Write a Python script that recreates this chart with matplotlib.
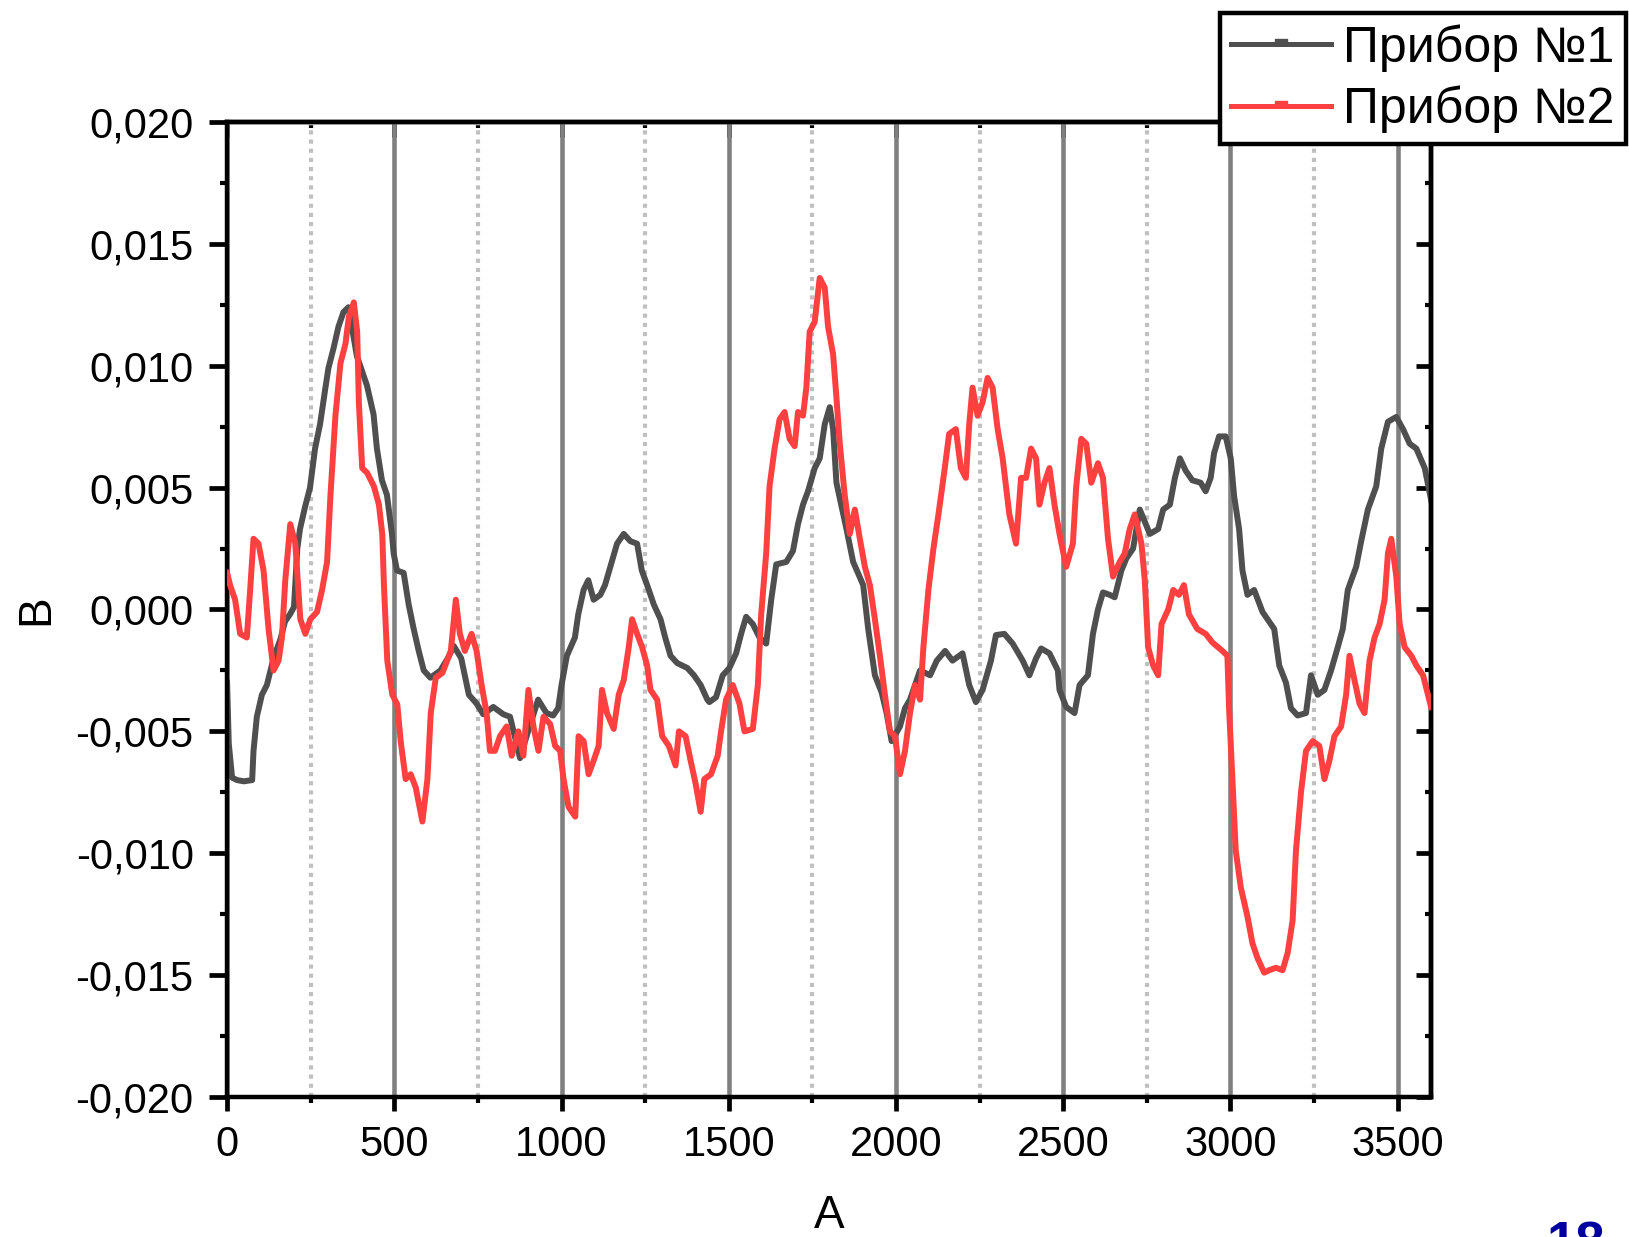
import numpy as np
import matplotlib
matplotlib.use("Agg")
import matplotlib.pyplot as plt
from matplotlib.lines import Line2D
from matplotlib.ticker import MultipleLocator, FuncFormatter

plt.rcParams['font.family'] = ['Liberation Sans', 'DejaVu Sans']

# ---- data (y in units of 1e-3) ----
x_dev1 = [0, 5, 15, 30, 50, 75, 79, 89, 104, 119, 139, 160, 173, 188, 200, 210, 218, 233, 248, 263,
          278, 293, 303, 318, 333, 348, 363, 378, 388, 403, 418, 438, 448, 463, 478, 493, 498, 508, 528, 543,
          558, 573, 588, 608, 638, 660, 678, 700, 723, 746, 766, 796, 826, 846, 876, 900, 930, 955, 975, 990,
          1000, 1016, 1040, 1050, 1066, 1080, 1096, 1116, 1130, 1150, 1166, 1186, 1206, 1226, 1240, 1256, 1276, 1296, 1310, 1326,
          1346, 1376, 1396, 1416, 1436, 1442, 1462, 1482, 1502, 1522, 1537, 1552, 1572, 1592, 1612, 1627, 1642, 1672, 1692, 1707,
          1722, 1737, 1757, 1772, 1787, 1802, 1812, 1822, 1852, 1872, 1902, 1917, 1937, 1957, 1972, 1987, 2012, 2027, 2042, 2072,
          2102, 2122, 2147, 2169, 2199, 2219, 2239, 2259, 2284, 2299, 2324, 2349, 2379, 2399, 2419, 2434, 2459, 2484, 2489, 2509,
          2534, 2549, 2574, 2589, 2604, 2619, 2639, 2654, 2674, 2689, 2709, 2729, 2744, 2759, 2784, 2799, 2819, 2834, 2849, 2866,
          2886, 2911, 2926, 2941, 2951, 2966, 2986, 3001, 3011, 3026, 3036, 3051, 3071, 3096, 3131, 3146, 3166, 3181, 3201, 3226,
          3241, 3261, 3281, 3301, 3321, 3336, 3351, 3376, 3391, 3411, 3436, 3451, 3471, 3496, 3516, 3536, 3556, 3581, 3600]
y_dev1 = [-3.0, -5.5, -6.9, -7.0, -7.05, -7.0, -5.8, -4.4, -3.5, -3.1, -2.0, -1.2, -0.5, -0.2, 0.1, 2.5, 3.3, 4.2, 5.0, 6.6,
          7.6, 9.0, 9.9, 10.7, 11.6, 12.2, 12.4, 11.2, 10.4, 9.8, 9.2, 8.0, 6.6, 5.3, 4.7, 3.1, 2.3, 1.6, 1.5, 0.2,
          -0.8, -1.7, -2.5, -2.8, -2.5, -2.0, -1.5, -2.0, -3.5, -3.86, -4.3, -4.0, -4.3, -4.4, -6.1, -5.0, -3.7, -4.25, -4.35, -4.05,
          -3.1, -1.9, -1.15, -0.2, 0.8, 1.2, 0.4, 0.6, 1.0, 1.95, 2.7, 3.1, 2.8, 2.7, 1.6, 1.0, 0.2, -0.4, -1.15, -1.9,
          -2.2, -2.4, -2.7, -3.1, -3.7, -3.8, -3.6, -2.7, -2.4, -1.8, -1.0, -0.3, -0.6, -1.15, -1.4, 0.4, 1.85, 1.95, 2.4, 3.5,
          4.3, 4.85, 5.8, 6.2, 7.6, 8.3, 7.4, 5.2, 3.3, 1.95, 1.0, -0.8, -2.7, -3.4, -4.25, -5.4, -4.8, -4.05, -3.7, -2.5,
          -2.7, -2.1, -1.7, -2.1, -1.8, -3.1, -3.8, -3.3, -2.1, -1.05, -1.0, -1.4, -2.1, -2.7, -2.0, -1.6, -1.8, -2.5, -3.3, -4.0,
          -4.25, -3.1, -2.7, -1.0, 0.0, 0.7, 0.6, 0.5, 1.6, 2.1, 2.5, 4.1, 3.6, 3.1, 3.3, 4.1, 4.3, 5.4, 6.2, 5.7,
          5.3, 5.2, 4.85, 5.4, 6.4, 7.1, 7.1, 6.2, 4.66, 3.3, 1.6, 0.6, 0.8, -0.1, -0.8, -2.3, -3.0, -4.05, -4.35, -4.25,
          -2.7, -3.5, -3.3, -2.5, -1.55, -0.8, 0.8, 1.75, 2.8, 4.1, 5.05, 6.6, 7.7, 7.9, 7.4, 6.8, 6.6, 5.8, 4.5]

x_dev2 = [0, 9, 24, 39, 59, 69, 79, 94, 109, 124, 139, 154, 164, 174, 189, 204, 219, 234, 249, 269,
          284, 299, 309, 324, 339, 354, 364, 379, 389, 394, 404, 419, 439, 454, 464, 469, 479, 494, 509, 519,
          534, 549, 564, 584, 599, 609, 624, 644, 669, 684, 696, 711, 731, 746, 761, 776, 786, 801, 816, 836,
          851, 871, 886, 901, 916, 931, 946, 966, 981, 996, 1006, 1021, 1041, 1051, 1066, 1081, 1096, 1111, 1121, 1136,
          1156, 1171, 1186, 1201, 1211, 1226, 1241, 1256, 1266, 1286, 1301, 1321, 1341, 1351, 1371, 1386, 1401, 1416, 1427, 1447,
          1467, 1477, 1492, 1512, 1532, 1547, 1572, 1587, 1597, 1612, 1622, 1637, 1652, 1667, 1682, 1697, 1707, 1722, 1732, 1742,
          1757, 1772, 1787, 1797, 1812, 1822, 1832, 1847, 1862, 1877, 1892, 1907, 1922, 1937, 1952, 1967, 1982, 1997, 2012, 2027,
          2042, 2057, 2072, 2082, 2097, 2112, 2127, 2144, 2159, 2179, 2194, 2209, 2219, 2229, 2244, 2259, 2274, 2289, 2304, 2319,
          2339, 2359, 2374, 2389, 2404, 2419, 2429, 2444, 2459, 2474, 2489, 2509, 2529, 2539, 2554, 2569, 2584, 2604, 2619, 2634,
          2649, 2669, 2684, 2699, 2714, 2734, 2744, 2754, 2769, 2784, 2794, 2814, 2829, 2846, 2861, 2876, 2901, 2926, 2946, 2976,
          2991, 2996, 3006, 3016, 3031, 3051, 3066, 3081, 3101, 3116, 3136, 3156, 3171, 3186, 3196, 3211, 3226, 3246, 3266, 3281,
          3296, 3311, 3331, 3346, 3356, 3371, 3386, 3401, 3416, 3431, 3446, 3461, 3471, 3481, 3496, 3506, 3521, 3541, 3556, 3576, 3600]
y_dev2 = [1.5, 1.0, 0.4, -1.0, -1.15, 0.8, 2.9, 2.7, 1.6, -0.8, -2.5, -2.1, -1.15, 1.2, 3.5, 2.7, -0.4, -1.0, -0.4, -0.1,
          0.8, 1.95, 4.66, 7.95, 10.1, 10.9, 12.0, 12.6, 11.4, 8.5, 5.8, 5.6, 5.05, 4.3, 3.1, 1.0, -2.1, -3.5, -3.9, -5.4,
          -6.96, -6.76, -7.3, -8.7, -6.96, -4.25, -2.8, -2.6, -1.7, 0.4, -1.0, -1.7, -1.0, -1.7, -3.1, -4.25, -5.8, -5.8, -5.2, -4.8,
          -6.0, -5.0, -6.0, -3.3, -4.8, -5.8, -4.4, -4.7, -5.6, -5.8, -6.96, -8.1, -8.5, -5.2, -5.4, -6.76, -6.2, -5.6, -3.3, -4.25,
          -4.9, -3.5, -2.9, -1.55, -0.4, -1.0, -1.55, -2.3, -3.3, -3.7, -5.2, -5.6, -6.4, -5.0, -5.2, -6.2, -7.15, -8.3, -6.96, -6.76,
          -6.0, -5.0, -3.7, -3.1, -3.86, -5.0, -4.9, -3.1, -0.2, 2.3, 5.05, 6.6, 7.8, 8.1, 7.0, 6.7, 8.1, 7.95, 9.1, 11.4,
          11.8, 13.6, 13.2, 11.6, 10.47, 8.7, 6.8, 4.66, 3.1, 4.1, 2.9, 1.75, 1.0, -0.4, -1.9, -3.5, -5.0, -5.2, -6.76, -5.8,
          -4.25, -3.1, -3.7, -1.55, 0.8, 2.5, 3.9, 5.6, 7.2, 7.4, 5.8, 5.4, 7.6, 9.1, 7.95, 8.5, 9.5, 9.1, 7.4, 6.2,
          3.9, 2.7, 5.4, 5.4, 6.6, 6.2, 4.3, 5.2, 5.8, 4.3, 3.1, 1.75, 2.7, 5.05, 7.0, 6.8, 5.2, 6.0, 5.4, 2.9,
          1.35, 1.95, 2.3, 3.3, 3.9, 2.7, 1.2, -1.55, -2.3, -2.7, -0.6, 0.0, 0.8, 0.6, 1.0, -0.2, -0.8, -1.0, -1.35, -1.7,
          -1.9, -4.05, -6.96, -9.9, -11.4, -12.6, -13.7, -14.3, -14.9, -14.8, -14.7, -14.8, -14.1, -12.76, -9.9, -7.5, -5.8, -5.4, -5.6, -6.96,
          -6.2, -5.2, -4.8, -3.5, -1.9, -2.9, -3.86, -4.25, -2.1, -1.15, -0.6, 0.4, 2.3, 2.9, 1.35, -0.6, -1.55, -1.9, -2.3, -2.7, -4.0]

labels = ['Прибор №1', 'Прибор №2']
colors = ['#4f4f4f', '#ff4040']
x_ticks = [0, 500, 1000, 1500, 2000, 2500, 3000, 3500]
y_ticks = [-0.020, -0.015, -0.010, -0.005, 0.000, 0.005, 0.010, 0.015, 0.020]


def comma_fmt(v, pos):
    return f"{v:.3f}".replace('.', ',').replace('\u2212', '-')


fig = plt.figure(figsize=(16.29, 12.37), dpi=100)
ax = fig.add_axes([0.1394, 0.1132, 0.7391, 0.7882])

# vertical grid: solid at major, dotted at minor
for xv in x_ticks:
    ax.axvline(xv, color='#808080', lw=3.3, zorder=0.5)
for xv in np.array(x_ticks) + 250:
    ax.axvline(xv, color='#c0c0c0', lw=3.0, ls=(0, (1, 1.2)), zorder=0.5)

ax.plot(x_dev1, np.array(y_dev1) * 1e-3, color=colors[0], lw=4.3, zorder=2)
ax.plot(x_dev2, np.array(y_dev2) * 1e-3, color=colors[1], lw=4.3, zorder=3)

ax.set_xlim(0, 3600)
ax.set_ylim(-0.02, 0.02)
ax.set_xticks(x_ticks)
ax.set_yticks(y_ticks)
ax.xaxis.set_minor_locator(MultipleLocator(250))
ax.yaxis.set_minor_locator(MultipleLocator(0.0025))
ax.yaxis.set_major_formatter(FuncFormatter(comma_fmt))

for s in ax.spines.values():
    s.set_linewidth(3.2)

ax.tick_params(axis='y', which='major', direction='out', length=13, width=3.4, labelsize=30, pad=11)
ax.tick_params(axis='y', which='minor', direction='out', length=5, width=3.0)
ax.tick_params(axis='x', which='major', direction='out', length=10, width=3.4, labelsize=30, pad=10)
ax.tick_params(axis='x', which='minor', direction='out', length=4, width=3.0)

# inward ticks on top and right
top = ax.secondary_xaxis('top')
top.set_xticks(x_ticks)
top.xaxis.set_minor_locator(MultipleLocator(250))
top.tick_params(which='major', direction='in', length=11, width=3.4, labeltop=False)
top.tick_params(which='minor', direction='in', length=4, width=3.0)
top.spines['top'].set_linewidth(3.2)

right = ax.secondary_yaxis('right')
right.set_yticks(y_ticks)
right.yaxis.set_minor_locator(MultipleLocator(0.0025))
right.tick_params(which='major', direction='in', length=11, width=3.4, labelright=False)
right.tick_params(which='minor', direction='in', length=4, width=3.0)
right.spines['right'].set_linewidth(3.2)

ax.set_xlabel('A', fontsize=33)
ax.set_ylabel('B', fontsize=33)
ax.xaxis.set_label_coords(0.5, -0.1)
ax.yaxis.set_label_coords(-0.14, 0.5)

bump = [(-1, 0), (1, 0), (1, 0.8), (-1, 0.8), (-1, 0)]
handles = [Line2D([], [], color=c, lw=3.6, marker=bump, ms=9, mec=c, mfc=c) for c in colors]
leg = fig.legend(handles, labels, loc='upper right', bbox_to_anchor=(0.998, 0.9895),
                 fontsize=36, frameon=True, fancybox=False, framealpha=1, edgecolor='black',
                 borderpad=0.22, handlelength=2.0, handletextpad=0.25, labelspacing=0.28,
                 borderaxespad=0, numpoints=1)
leg.get_frame().set_linewidth(3.2)

fig.text(0.9497, 0.0137, '18', color='#0000a0', fontsize=38, fontweight='bold', ha='left', va='top')

fig.savefig('out.png', dpi=100)
